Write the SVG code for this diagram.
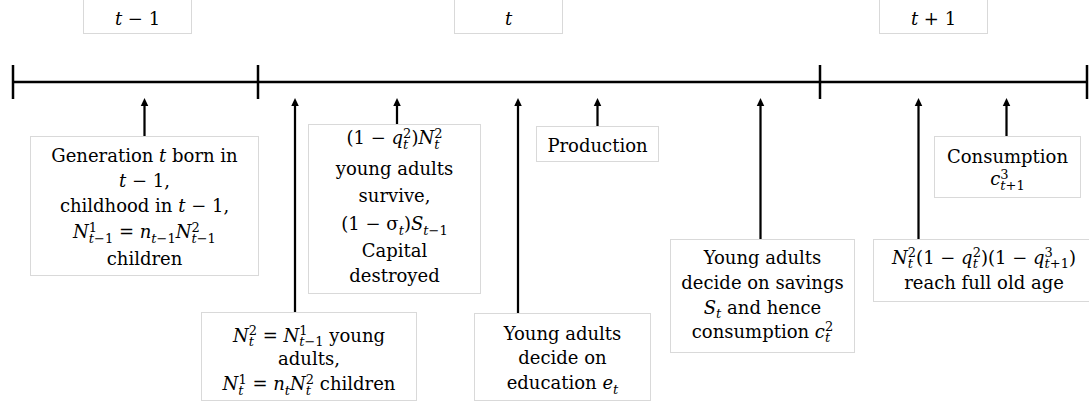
<svg xmlns="http://www.w3.org/2000/svg" width="1089" height="405" viewBox="0 0 1089 405">
<style>
.bg{fill:#fff}
.box{fill:#fff;stroke:#d9d9d9;stroke-width:1}
.t{font-family:"DejaVu Serif",serif;font-size:18px;fill:#000;text-anchor:middle}
.i{font-style:italic}
.s{font-size:13px}
.tl{stroke:#000;stroke-width:2.5;fill:none}
.ar{stroke:#000;stroke-width:2.25;fill:none;marker-end:url(#ah)}
</style>
<defs>
<marker id="ah" markerUnits="userSpaceOnUse" markerWidth="9" markerHeight="8" refX="2" refY="3.75" orient="auto" overflow="visible">
<path d="M0,0 L8,3.75 L0,7.5 z" fill="#000"/>
</marker>
</defs>
<rect class="bg" x="0" y="0" width="1089" height="405"/>

<g id="period-t-1">
<rect class="box" x="83.5" y="-5" width="108" height="38.5"/>
<text class="t" x="137.5" y="25"><tspan class="i">t</tspan> − 1</text>
</g>
<g id="period-t">
<rect class="box" x="454.5" y="-5" width="108" height="38.5"/>
<text class="t" x="508.5" y="25"><tspan class="i">t</tspan></text>
</g>
<g id="period-t+1">
<rect class="box" x="879.5" y="-5" width="108" height="38.5"/>
<text class="t" x="933.5" y="25"><tspan class="i">t</tspan> + 1</text>
</g>

<g id="timeline">
<line class="tl" x1="13" y1="82" x2="1087" y2="82"/>
<line class="tl" x1="13" y1="65" x2="13" y2="99"/>
<line class="tl" x1="258" y1="65" x2="258" y2="99"/>
<line class="tl" x1="820" y1="65" x2="820" y2="99"/>
<line class="tl" x1="1087" y1="65" x2="1087" y2="99"/>
</g>

<g id="connectors">
<line class="ar" x1="144.5" y1="136" x2="144.5" y2="104"/>
<line class="ar" x1="295" y1="312" x2="295" y2="104"/>
<line class="ar" x1="397" y1="124" x2="397" y2="104"/>
<line class="ar" x1="518" y1="313" x2="518" y2="104"/>
<line class="ar" x1="597.5" y1="126" x2="597.5" y2="104"/>
<line class="ar" x1="760.5" y1="239" x2="760.5" y2="104"/>
<line class="ar" x1="918.5" y1="239" x2="918.5" y2="104"/>
<line class="ar" x1="1006.5" y1="136" x2="1006.5" y2="104"/>
</g>

<g id="generation">
<rect class="box" x="30.5" y="136.5" width="228" height="139"/>
<text class="t" x="144.5" y="161.5">Generation <tspan class="i">t</tspan> born in</text>
<text class="t" x="144.5" y="187"><tspan class="i">t</tspan> − 1,</text>
<text class="t" x="144.5" y="212">childhood in <tspan class="i">t</tspan> − 1,</text>
<text class="t" x="144.5" y="238"><tspan class="i">N</tspan><tspan class="s" dy="-6.5">1</tspan><tspan class="s i" dx="-8.3" dy="11">t</tspan><tspan class="s">−1</tspan><tspan dy="-4.5"> = </tspan><tspan class="i">n</tspan><tspan class="s i" dy="4.5">t</tspan><tspan class="s">−1</tspan><tspan class="i" dy="-4.5">N</tspan><tspan class="s" dy="-6.5">2</tspan><tspan class="s i" dx="-8.3" dy="11">t</tspan><tspan class="s">−1</tspan></text>
<text class="t" x="144.5" y="265">children</text>
</g>

<g id="young-adults">
<rect class="box" x="201.5" y="312.5" width="215" height="88"/>
<text class="t" x="309" y="341.5"><tspan class="i">N</tspan><tspan class="s i" dy="4.5">t</tspan><tspan class="s" dx="-5.2" dy="-11">2</tspan><tspan dy="6.5"> = </tspan><tspan class="i">N</tspan><tspan class="s" dy="-6.5">1</tspan><tspan class="s i" dx="-8.3" dy="11">t</tspan><tspan class="s">−1</tspan><tspan dy="-4.5"> young</tspan></text>
<text class="t" x="309" y="364.5">adults,</text>
<text class="t" x="309" y="390"><tspan class="i">N</tspan><tspan class="s i" dy="4.5">t</tspan><tspan class="s" dx="-5.2" dy="-11">1</tspan><tspan dy="6.5"> = </tspan><tspan class="i">n</tspan><tspan class="s i" dy="4.5">t</tspan><tspan class="i" dy="-4.5">N</tspan><tspan class="s i" dy="4.5">t</tspan><tspan class="s" dx="-5.2" dy="-11">2</tspan><tspan dy="6.5"> children</tspan></text>
</g>

<g id="survive">
<rect class="box" x="308.5" y="124.5" width="172" height="169"/>
<text class="t" x="394.5" y="144">(1 − <tspan class="i">q</tspan><tspan class="s i" dy="4.5">t</tspan><tspan class="s" dx="-5.2" dy="-11">2</tspan><tspan dy="6.5">)</tspan><tspan class="i">N</tspan><tspan class="s i" dy="4.5">t</tspan><tspan class="s" dx="-5.2" dy="-11">2</tspan></text>
<text class="t" x="394.5" y="175">young adults</text>
<text class="t" x="394.5" y="201.5">survive,</text>
<text class="t" x="394.5" y="230">(1 − σ<tspan class="s i" dy="4.5">t</tspan><tspan dy="-4.5">)</tspan><tspan class="i">S</tspan><tspan class="s i" dy="4.5">t</tspan><tspan class="s">−1</tspan></text>
<text class="t" x="394.5" y="256.5">Capital</text>
<text class="t" x="394.5" y="281.5">destroyed</text>
</g>

<g id="production">
<rect class="box" x="536.5" y="126.5" width="122" height="35"/>
<text class="t" x="597.5" y="151.5">Production</text>
</g>

<g id="education">
<rect class="box" x="474.5" y="313.5" width="176" height="87"/>
<text class="t" x="562.5" y="339.5">Young adults</text>
<text class="t" x="562.5" y="364">decide on</text>
<text class="t" x="562.5" y="389">education <tspan class="i">e</tspan><tspan class="s i" dy="4.5">t</tspan></text>
</g>

<g id="savings">
<rect class="box" x="670.5" y="239.5" width="184" height="113"/>
<text class="t" x="762.5" y="263.5">Young adults</text>
<text class="t" x="762.5" y="288.5">decide on savings</text>
<text class="t" x="762.5" y="313.5"><tspan class="i">S</tspan><tspan class="s i" dy="4.5">t</tspan><tspan dy="-4.5"> and hence</tspan></text>
<text class="t" x="762.5" y="337.5">consumption <tspan class="i">c</tspan><tspan class="s i" dy="4.5">t</tspan><tspan class="s" dx="-5.2" dy="-11">2</tspan></text>
</g>

<g id="old-age">
<rect class="box" x="873.5" y="239.5" width="221" height="62"/>
<text class="t" x="984" y="263.5"><tspan class="i">N</tspan><tspan class="s i" dy="4.5">t</tspan><tspan class="s" dx="-5.2" dy="-11">2</tspan><tspan dy="6.5">(1 − </tspan><tspan class="i">q</tspan><tspan class="s i" dy="4.5">t</tspan><tspan class="s" dx="-5.2" dy="-11">2</tspan><tspan dy="6.5">)(1 − </tspan><tspan class="i">q</tspan><tspan class="s" dy="-6.5">3</tspan><tspan class="s i" dx="-8.3" dy="11">t</tspan><tspan class="s">+1</tspan><tspan dy="-4.5">)</tspan></text>
<text class="t" x="984" y="288.5">reach full old age</text>
</g>

<g id="consumption">
<rect class="box" x="934.5" y="136.5" width="146" height="61"/>
<text class="t" x="1007.5" y="162.5">Consumption</text>
<text class="t" x="1007.5" y="185"><tspan class="i">c</tspan><tspan class="s" dy="-6.5">3</tspan><tspan class="s i" dx="-8.3" dy="11">t</tspan><tspan class="s">+1</tspan></text>
</g>
</svg>
